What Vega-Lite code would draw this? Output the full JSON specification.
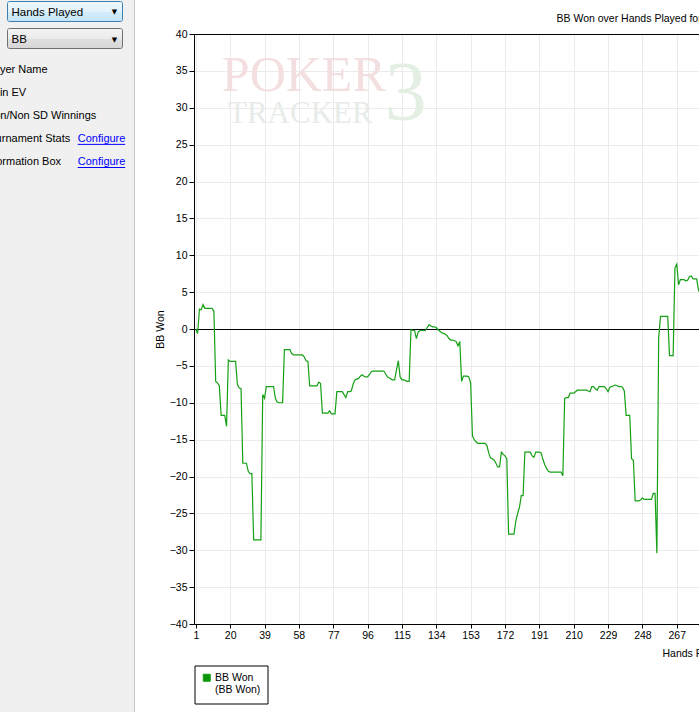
{
  "$schema": "https://vega.github.io/schema/vega-lite/v6.json",
  "autosize": {"type": "none"},
  "padding": {"left": 194, "top": 34, "right": 0, "bottom": 88},
  "width": 505,
  "height": 590,
  "background": "#ffffff",
  "config": {
    "view": {"stroke": null},
    "text": {"font": "Liberation Sans", "fontSize": 11}
  },
  "datasets": {
    "bbwon": [
      {"hand":1,"bbWon":0},{"hand":2,"bbWon":-0.6},{"hand":3,"bbWon":2.7},{"hand":4,"bbWon":2.6},{"hand":5,"bbWon":3.3},
      {"hand":6,"bbWon":2.8},{"hand":7,"bbWon":2.8},{"hand":8,"bbWon":2.8},{"hand":9,"bbWon":2.8},{"hand":10,"bbWon":2.8},
      {"hand":11,"bbWon":2.4},{"hand":12,"bbWon":-7.1},{"hand":13,"bbWon":-7.3},{"hand":14,"bbWon":-7.7},{"hand":15,"bbWon":-11.7},
      {"hand":16,"bbWon":-11.7},{"hand":17,"bbWon":-11.7},{"hand":18,"bbWon":-13.2},{"hand":19,"bbWon":-4.2},{"hand":20,"bbWon":-4.4},
      {"hand":21,"bbWon":-4.4},{"hand":22,"bbWon":-4.4},{"hand":23,"bbWon":-4.4},{"hand":24,"bbWon":-7.5},{"hand":25,"bbWon":-8.0},
      {"hand":26,"bbWon":-8.1},{"hand":27,"bbWon":-18.2},{"hand":28,"bbWon":-18.2},{"hand":29,"bbWon":-18.2},{"hand":30,"bbWon":-19.3},
      {"hand":31,"bbWon":-19.6},{"hand":32,"bbWon":-19.6},{"hand":33,"bbWon":-28.6},{"hand":34,"bbWon":-28.6},{"hand":35,"bbWon":-28.6},
      {"hand":36,"bbWon":-28.6},{"hand":37,"bbWon":-28.6},{"hand":38,"bbWon":-8.9},{"hand":39,"bbWon":-9.4},{"hand":40,"bbWon":-7.8},
      {"hand":41,"bbWon":-7.8},{"hand":42,"bbWon":-7.8},{"hand":43,"bbWon":-7.8},{"hand":44,"bbWon":-7.8},{"hand":45,"bbWon":-9.4},
      {"hand":46,"bbWon":-9.9},{"hand":47,"bbWon":-10.0},{"hand":48,"bbWon":-10.0},{"hand":49,"bbWon":-10.0},{"hand":50,"bbWon":-2.8},
      {"hand":51,"bbWon":-2.8},{"hand":52,"bbWon":-2.8},{"hand":53,"bbWon":-2.8},{"hand":54,"bbWon":-3.3},{"hand":55,"bbWon":-3.5},
      {"hand":56,"bbWon":-3.5},{"hand":57,"bbWon":-3.5},{"hand":58,"bbWon":-3.5},{"hand":59,"bbWon":-3.5},{"hand":60,"bbWon":-3.5},
      {"hand":61,"bbWon":-3.8},{"hand":62,"bbWon":-4.3},{"hand":63,"bbWon":-4.4},{"hand":64,"bbWon":-7.7},{"hand":65,"bbWon":-7.7},
      {"hand":66,"bbWon":-7.7},{"hand":67,"bbWon":-7.7},{"hand":68,"bbWon":-7.7},{"hand":69,"bbWon":-7.2},{"hand":70,"bbWon":-7.4},
      {"hand":71,"bbWon":-11.4},{"hand":72,"bbWon":-11.4},{"hand":73,"bbWon":-11.4},{"hand":74,"bbWon":-11.4},{"hand":75,"bbWon":-11.1},
      {"hand":76,"bbWon":-11.5},{"hand":77,"bbWon":-11.5},{"hand":78,"bbWon":-11.5},{"hand":79,"bbWon":-8.5},{"hand":80,"bbWon":-8.5},
      {"hand":81,"bbWon":-8.5},{"hand":82,"bbWon":-8.5},{"hand":83,"bbWon":-8.9},{"hand":84,"bbWon":-9.3},{"hand":85,"bbWon":-8.5},
      {"hand":86,"bbWon":-8.5},{"hand":87,"bbWon":-8.4},{"hand":88,"bbWon":-7.5},{"hand":89,"bbWon":-6.9},{"hand":90,"bbWon":-6.8},
      {"hand":91,"bbWon":-6.7},{"hand":92,"bbWon":-6.4},{"hand":93,"bbWon":-6.2},{"hand":94,"bbWon":-6.4},{"hand":95,"bbWon":-6.5},
      {"hand":96,"bbWon":-6.5},{"hand":97,"bbWon":-6.2},{"hand":98,"bbWon":-5.8},{"hand":99,"bbWon":-5.7},{"hand":100,"bbWon":-5.7},
      {"hand":101,"bbWon":-5.7},{"hand":102,"bbWon":-5.7},{"hand":103,"bbWon":-5.7},{"hand":104,"bbWon":-5.7},{"hand":105,"bbWon":-5.7},
      {"hand":106,"bbWon":-6.1},{"hand":107,"bbWon":-6.5},{"hand":108,"bbWon":-6.6},{"hand":109,"bbWon":-6.8},{"hand":110,"bbWon":-6.9},
      {"hand":111,"bbWon":-6.9},{"hand":112,"bbWon":-5.5},{"hand":113,"bbWon":-4.3},{"hand":114,"bbWon":-6.5},{"hand":115,"bbWon":-6.9},
      {"hand":116,"bbWon":-6.9},{"hand":117,"bbWon":-7.0},{"hand":118,"bbWon":-7.1},{"hand":119,"bbWon":-7.1},{"hand":120,"bbWon":-0.1},
      {"hand":121,"bbWon":-0.2},{"hand":122,"bbWon":-0.2},{"hand":123,"bbWon":-1.3},{"hand":124,"bbWon":-0.4},{"hand":125,"bbWon":-0.2},
      {"hand":126,"bbWon":-0.2},{"hand":127,"bbWon":-0.2},{"hand":128,"bbWon":-0.2},{"hand":129,"bbWon":0.2},{"hand":130,"bbWon":0.6},
      {"hand":131,"bbWon":0.4},{"hand":132,"bbWon":0.3},{"hand":133,"bbWon":0.3},{"hand":134,"bbWon":0.2},{"hand":135,"bbWon":-0.1},
      {"hand":136,"bbWon":-0.3},{"hand":137,"bbWon":-0.5},{"hand":138,"bbWon":-0.6},{"hand":139,"bbWon":-0.7},{"hand":140,"bbWon":-0.9},
      {"hand":141,"bbWon":-1.3},{"hand":142,"bbWon":-1.5},{"hand":143,"bbWon":-1.5},{"hand":144,"bbWon":-1.6},{"hand":145,"bbWon":-1.7},
      {"hand":146,"bbWon":-2.3},{"hand":147,"bbWon":-1.7},{"hand":148,"bbWon":-7.1},{"hand":149,"bbWon":-6.4},{"hand":150,"bbWon":-6.4},
      {"hand":151,"bbWon":-6.4},{"hand":152,"bbWon":-6.5},{"hand":153,"bbWon":-7.3},{"hand":154,"bbWon":-14.5},{"hand":155,"bbWon":-15.0},
      {"hand":156,"bbWon":-15.3},{"hand":157,"bbWon":-15.5},{"hand":158,"bbWon":-15.5},{"hand":159,"bbWon":-15.5},{"hand":160,"bbWon":-15.5},
      {"hand":161,"bbWon":-15.5},{"hand":162,"bbWon":-15.8},{"hand":163,"bbWon":-16.8},{"hand":164,"bbWon":-17.5},{"hand":165,"bbWon":-17.6},
      {"hand":166,"bbWon":-17.8},{"hand":167,"bbWon":-18.2},{"hand":168,"bbWon":-18.7},{"hand":169,"bbWon":-18.7},{"hand":170,"bbWon":-16.7},
      {"hand":171,"bbWon":-17.0},{"hand":172,"bbWon":-17.2},{"hand":173,"bbWon":-17.6},{"hand":174,"bbWon":-27.8},{"hand":175,"bbWon":-27.8},
      {"hand":176,"bbWon":-27.8},{"hand":177,"bbWon":-27.8},{"hand":178,"bbWon":-26.0},{"hand":179,"bbWon":-25.0},{"hand":180,"bbWon":-24.2},
      {"hand":181,"bbWon":-22.6},{"hand":182,"bbWon":-22.6},{"hand":183,"bbWon":-16.7},{"hand":184,"bbWon":-16.7},{"hand":185,"bbWon":-16.7},
      {"hand":186,"bbWon":-16.7},{"hand":187,"bbWon":-17.2},{"hand":188,"bbWon":-17.4},{"hand":189,"bbWon":-16.7},{"hand":190,"bbWon":-16.7},
      {"hand":191,"bbWon":-16.7},{"hand":192,"bbWon":-16.8},{"hand":193,"bbWon":-17.7},{"hand":194,"bbWon":-18.4},{"hand":195,"bbWon":-18.9},
      {"hand":196,"bbWon":-19.3},{"hand":197,"bbWon":-19.4},{"hand":198,"bbWon":-19.4},{"hand":199,"bbWon":-19.4},{"hand":200,"bbWon":-19.4},
      {"hand":201,"bbWon":-19.4},{"hand":202,"bbWon":-19.4},{"hand":203,"bbWon":-19.4},{"hand":204,"bbWon":-19.9},{"hand":205,"bbWon":-9.4},
      {"hand":206,"bbWon":-9.3},{"hand":207,"bbWon":-9.3},{"hand":208,"bbWon":-8.7},{"hand":209,"bbWon":-8.7},{"hand":210,"bbWon":-8.7},
      {"hand":211,"bbWon":-8.5},{"hand":212,"bbWon":-8.3},{"hand":213,"bbWon":-8.3},{"hand":214,"bbWon":-8.3},{"hand":215,"bbWon":-8.3},
      {"hand":216,"bbWon":-8.3},{"hand":217,"bbWon":-8.3},{"hand":218,"bbWon":-8.4},{"hand":219,"bbWon":-8.5},{"hand":220,"bbWon":-7.8},
      {"hand":221,"bbWon":-7.8},{"hand":222,"bbWon":-8.1},{"hand":223,"bbWon":-8.3},{"hand":224,"bbWon":-7.8},{"hand":225,"bbWon":-7.8},
      {"hand":226,"bbWon":-7.8},{"hand":227,"bbWon":-7.8},{"hand":228,"bbWon":-8.1},{"hand":229,"bbWon":-8.5},{"hand":230,"bbWon":-7.9},
      {"hand":231,"bbWon":-7.8},{"hand":232,"bbWon":-7.7},{"hand":233,"bbWon":-7.6},{"hand":234,"bbWon":-7.7},{"hand":235,"bbWon":-7.8},
      {"hand":236,"bbWon":-7.8},{"hand":237,"bbWon":-7.9},{"hand":238,"bbWon":-8.4},{"hand":239,"bbWon":-11.7},{"hand":240,"bbWon":-11.7},
      {"hand":241,"bbWon":-11.7},{"hand":242,"bbWon":-17.6},{"hand":243,"bbWon":-17.8},{"hand":244,"bbWon":-23.3},{"hand":245,"bbWon":-23.3},
      {"hand":246,"bbWon":-23.3},{"hand":247,"bbWon":-23.2},{"hand":248,"bbWon":-22.9},{"hand":249,"bbWon":-23.1},{"hand":250,"bbWon":-23.1},
      {"hand":251,"bbWon":-23.1},{"hand":252,"bbWon":-23.1},{"hand":253,"bbWon":-23.1},{"hand":254,"bbWon":-22.3},{"hand":255,"bbWon":-22.3},
      {"hand":256,"bbWon":-30.4},{"hand":257,"bbWon":-1.2},{"hand":258,"bbWon":1.7},{"hand":259,"bbWon":1.7},{"hand":260,"bbWon":1.7},
      {"hand":261,"bbWon":1.7},{"hand":262,"bbWon":1.7},{"hand":263,"bbWon":-3.6},{"hand":264,"bbWon":-3.6},{"hand":265,"bbWon":-3.6},
      {"hand":266,"bbWon":8.3},{"hand":267,"bbWon":8.8},{"hand":268,"bbWon":6.0},{"hand":269,"bbWon":6.7},{"hand":270,"bbWon":6.7},
      {"hand":271,"bbWon":6.7},{"hand":272,"bbWon":6.5},{"hand":273,"bbWon":6.6},{"hand":274,"bbWon":7.1},{"hand":275,"bbWon":7.2},
      {"hand":276,"bbWon":6.8},{"hand":277,"bbWon":6.8},{"hand":278,"bbWon":6.8},{"hand":279,"bbWon":5.3},{"hand":280,"bbWon":4.8}
    ],
    "panel": [{"panel": "Graph settings"}],
    "dropdowns": [
      {"control": "combo", "selected": "Hands Played", "state": "focused"},
      {"control": "combo", "selected": "BB", "state": "normal"}
    ],
    "options": [
      {"row": 1, "option": "Player Name", "link": ""},
      {"row": 2, "option": "All-in EV", "link": ""},
      {"row": 3, "option": "Won/Non SD Winnings", "link": ""},
      {"row": 4, "option": "Tournament Stats", "link": "Configure"},
      {"row": 5, "option": "Information Box", "link": "Configure"}
    ],
    "heading": [{"title": "BB Won over Hands Played for"}],
    "watermark": [{"word": "POKER"}]
  },
  "layer": [
    {
      "data": {"name": "panel"},
      "mark": {"type": "rect", "fill": "#f0f0f0", "stroke": "#c9c9c9", "strokeWidth": 1},
      "encoding": {
        "x": {"field": "panel", "type": "nominal", "axis": null, "scale": {"type": "band", "range": [-200, -59.5], "paddingInner": 0, "paddingOuter": 0}},
        "y": {"field": "panel", "type": "nominal", "axis": null, "scale": {"type": "band", "range": [-40, 700], "paddingInner": 0, "paddingOuter": 0}}
      }
    },
    {
      "data": {"name": "dropdowns"},
      "encoding": {
        "x": {"field": "control", "type": "nominal", "axis": null, "scale": {"type": "band", "range": [-186.5, -71.5], "paddingInner": 0, "paddingOuter": 0}},
        "y": {"field": "selected", "type": "nominal", "sort": null, "axis": null, "scale": {"type": "band", "domain": ["Hands Played", "BB"], "range": [-32.5, 14.5], "paddingInner": 0.2593, "paddingOuter": 0}}
      },
      "layer": [
        {
          "transform": [{"filter": "datum.state == 'focused'"}],
          "mark": {"type": "rect", "cornerRadius": 2, "stroke": "#3c7fb1", "strokeWidth": 1,
            "fill": {"gradient": "linear", "x1": 0, "y1": 0, "x2": 0, "y2": 1, "stops": [{"offset": 0, "color": "#eef7fd"}, {"offset": 0.5, "color": "#e2f2fc"}, {"offset": 0.52, "color": "#d3ecfa"}, {"offset": 1, "color": "#c6e5f8"}]}}
        },
        {
          "transform": [{"filter": "datum.state == 'normal'"}],
          "mark": {"type": "rect", "cornerRadius": 2, "stroke": "#707070", "strokeWidth": 1,
            "fill": {"gradient": "linear", "x1": 0, "y1": 0, "x2": 0, "y2": 1, "stops": [{"offset": 0, "color": "#f4f4f4"}, {"offset": 0.5, "color": "#ebebeb"}, {"offset": 0.52, "color": "#e0e0e0"}, {"offset": 1, "color": "#d6d6d6"}]}}
        },
        {
          "mark": {"type": "text", "align": "left", "baseline": "middle", "dx": 4, "dy": 1.5, "font": "Liberation Sans", "fontSize": 11.5, "color": "#000000"},
          "encoding": {"x": {"field": "control", "type": "nominal", "bandPosition": 0}, "text": {"field": "selected"}}
        },
        {
          "mark": {"type": "text", "text": "▼", "font": "DejaVu Sans", "fontSize": 7, "align": "center", "baseline": "middle", "dx": -8, "dy": 1, "color": "#000000"},
          "encoding": {"x": {"field": "control", "type": "nominal", "bandPosition": 1}}
        }
      ]
    },
    {
      "data": {"name": "options"},
      "transform": [{"fold": ["option", "link"], "as": ["column", "label"]}, {"filter": "datum.label != ''"}],
      "encoding": {
        "x": {"field": "column", "type": "nominal", "axis": null, "scale": {"type": "point", "domain": ["option", "link"], "range": [-210, -116.3], "padding": 0}},
        "y": {"field": "row", "type": "ordinal", "axis": null, "scale": {"type": "point", "range": [35.5, 128], "padding": 0}}
      },
      "layer": [
        {
          "transform": [{"filter": "datum.column == 'option'"}],
          "mark": {"type": "text", "align": "left", "baseline": "middle", "font": "Liberation Sans", "fontSize": 11, "color": "#000000"},
          "encoding": {"text": {"field": "label"}}
        },
        {
          "transform": [{"filter": "datum.column == 'link'"}],
          "mark": {"type": "text", "align": "left", "baseline": "middle", "font": "Liberation Sans", "fontSize": 11, "color": "#0000ff"},
          "encoding": {"text": {"field": "label"}}
        },
        {
          "transform": [{"filter": "datum.column == 'link'"}],
          "mark": {"type": "rule", "color": "#0000ff", "strokeWidth": 1, "x2Offset": 47.5, "yOffset": 5.5},
          "encoding": {"x2": {"field": "column"}}
        }
      ]
    },
    {
      "layer": [
        {
          "data": {"name": "watermark"},
          "mark": {"type": "text", "font": "Liberation Serif", "fontSize": 50, "color": "#f3dfdf", "align": "left", "baseline": "alphabetic"},
          "encoding": {"x": {"datum": 15.4}, "y": {"datum": 32.3}, "text": {"value": "POKER"}}
        },
        {
          "data": {"name": "watermark"},
          "mark": {"type": "text", "font": "Liberation Serif", "fontSize": 31, "color": "#e8ece8", "align": "left", "baseline": "alphabetic"},
          "encoding": {"x": {"datum": 18.8}, "y": {"datum": 28.0}, "text": {"value": "TRACKER"}}
        },
        {
          "data": {"name": "watermark"},
          "mark": {"type": "text", "font": "Liberation Serif", "fontSize": 84, "color": "#e4efe4", "align": "left", "baseline": "alphabetic"},
          "encoding": {"x": {"datum": 105.5}, "y": {"datum": 28.4}, "text": {"value": "3"}}
        },
        {
          "data": {"name": "watermark"},
          "mark": {"type": "rule", "color": "#000000", "strokeWidth": 1, "yOffset": 0.5},
          "encoding": {"y": {"datum": 0}}
        },
        {
          "data": {"name": "bbwon"},
          "mark": {"type": "line", "strokeWidth": 1.2, "clip": true, "interpolate": "linear"},
          "encoding": {
            "x": {"field": "hand", "type": "quantitative",
              "scale": {"domain": [0, 279.3], "nice": false, "zero": false},
              "axis": {"orient": "bottom", "values": [1, 20, 39, 58, 77, 96, 115, 134, 153, 172, 191, 210, 229, 248, 267], "tickCount": 40,
                "title": "Hands Played", "titleX": 468, "titleY": 29, "titleAlign": "left", "titleBaseline": "middle", "titleAngle": 0,
                "tickSize": 4, "labelPadding": 2, "labelFlush": false, "labelOverlap": false,
                "grid": true, "gridColor": "#ebebeb", "domainColor": "#000000", "tickColor": "#000000",
                "labelColor": "#000000", "labelFont": "Liberation Sans", "labelFontSize": 10.5,
                "titleFont": "Liberation Sans", "titleFontSize": 10.5, "titleFontWeight": "normal", "titleColor": "#000000"}},
            "y": {"field": "bbWon", "type": "quantitative",
              "scale": {"domain": [-40, 40], "nice": false},
              "axis": {"orient": "left", "values": [-40, -35, -30, -25, -20, -15, -10, -5, 0, 5, 10, 15, 20, 25, 30, 35, 40], "tickCount": 40,
                "title": "BB Won", "titlePadding": 4, "tickSize": 5, "labelPadding": 2, "labelFlush": false, "labelOverlap": false,
                "grid": true, "gridColor": "#ebebeb", "domainColor": "#000000", "tickColor": "#000000",
                "labelColor": "#000000", "labelFont": "Liberation Sans", "labelFontSize": 10.5,
                "titleFont": "Liberation Sans", "titleFontSize": 10.5, "titleFontWeight": "normal", "titleColor": "#000000"}},
            "color": {"datum": "BB Won", "type": "nominal",
              "scale": {"range": ["#14a014"]},
              "legend": {"orient": "none", "legendX": 0.5, "legendY": 631.5, "title": null, "direction": "vertical",
                "fillColor": "#ffffff", "strokeColor": "#000000", "padding": 7,
                "symbolType": "square", "symbolSize": 49, "symbolStrokeWidth": 1, "symbolFillColor": "#0a960a", "symbolStrokeColor": "#000000",
                "labelExpr": "['BB Won', '(BB Won)']", "labelFont": "Liberation Sans", "labelFontSize": 10.5, "labelColor": "#000000",
                "labelBaseline": "top", "labelOffset": 3,
                "encode": {"symbols": {"update": {"fill": {"value": "#0a960a"}, "stroke": {"value": "#000000"}, "opacity": {"value": 1}}},
                           "labels": {"update": {"dy": {"value": -5}}}}}}
          }
        },
        {
          "data": {"name": "watermark"},
          "mark": {"type": "rule", "color": "#000000", "strokeWidth": 1, "yOffset": 0.5},
          "encoding": {"y": {"datum": 40}}
        },
        {
          "data": {"name": "heading"},
          "mark": {"type": "text", "align": "left", "baseline": "middle", "dy": -14.7, "font": "Liberation Sans", "fontSize": 10.5, "color": "#000000"},
          "encoding": {"x": {"datum": 200.5}, "y": {"datum": 40}, "text": {"field": "title"}}
        }
      ]
    }
  ],
  "resolve": {"scale": {"x": "independent", "y": "independent"}}
}
